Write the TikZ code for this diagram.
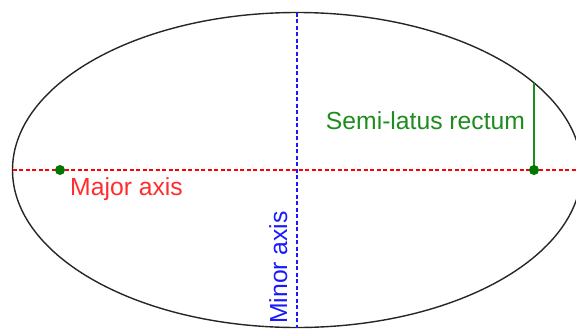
\documentclass[tikz,border=0pt]{standalone}
\usepackage{fontspec}
\setmainfont{Liberation Sans}
\usetikzlibrary{positioning,calc}
\definecolor{axisred}{RGB}{255,0,0}
\definecolor{labelred}{RGB}{255,45,45}
\definecolor{rectumgreen}{RGB}{30,140,30}
\definecolor{focusgreen}{RGB}{0,120,0}
\definecolor{axisblue}{RGB}{25,25,255}
\tikzset{
  axisline/.style={line width=1.3pt, dash pattern=on 4pt off 2.5pt},
  lbl/.style={font=\fontsize{24.7}{29}\selectfont, inner sep=0pt, anchor=base}
}

\begin{document}
\begin{tikzpicture}[x=1pt,y=-1pt]
        \useasboundingbox (0,0) rectangle (576,330);
        \clip (0,0) rectangle (576,330);
        \coordinate (centre) at (297,170);
        \coordinate (majorleft) at (12.5,170);
        \coordinate (majorright) at (590,170);
        \coordinate (minortop) at (297,12.5);
        \coordinate (minorbottom) at (297,327.5);
        \coordinate (leftfocus) at (60,170);
        \coordinate (rightfocus) at (534,170);
        \coordinate (rectumtop) at (534,82.8);
        \draw[line width=1.4pt, black!85] (centre) ellipse [x radius=284.5pt, y radius=157.5pt];
        \draw[axisline, axisred] (majorleft) -- (majorright);
        \draw[axisline, axisblue] (minortop) -- (minorbottom);
        \draw[line width=1.4pt, rectumgreen] (rightfocus) -- (rectumtop);
        \fill[focusgreen] (leftfocus) circle (5pt);
        \fill[focusgreen] (rightfocus) circle (5pt);
        \node[lbl, labelred] (majorlabel) at (126.5,195) {Major axis};
        \node[lbl, rectumgreen] (rectumlabel) at (425.5,129) {Semi-latus rectum};
        \node[lbl, axisblue, rotate=90] (minorlabel) at (287,267.5) {Minor axis};
    \end{tikzpicture}
\end{document}
